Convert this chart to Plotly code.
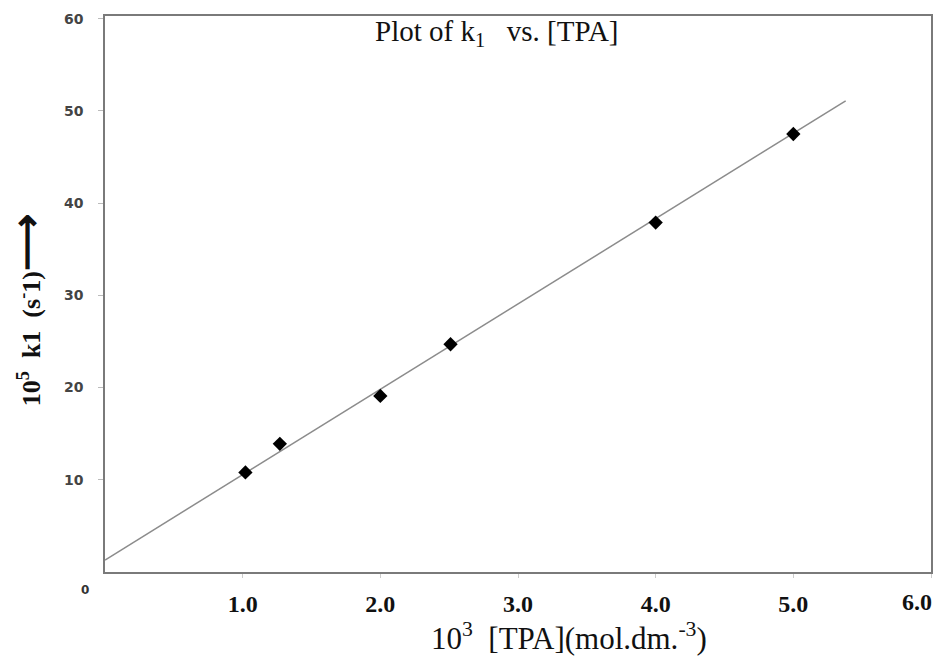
import plotly.graph_objects as go

# data
tpa = [1.02, 1.27, 2.0, 2.51, 4.0, 5.0]
k1 = [10.8, 13.9, 19.1, 24.7, 37.9, 47.5]
fit_x = [0.0, 5.38]
fit_y = [1.3, 51.1]
x_ticks = [1, 2, 3, 4, 5]
x_tick_text = ["1.0", "2.0", "3.0", "4.0", "5.0"]
y_ticks = [10, 20, 30, 40, 50, 60]

fig = go.Figure()
fig.add_trace(go.Scatter(x=fit_x, y=fit_y, mode="lines",
                         line=dict(color="#8c8c8c", width=1.5), showlegend=False))
fig.add_trace(go.Scatter(x=tpa, y=k1, mode="markers",
                         marker=dict(symbol="diamond", size=11, color="black"),
                         showlegend=False))

fig.update_layout(
    width=942, height=661,
    margin=dict(l=105, r=9, t=16, b=89),
    paper_bgcolor="white", plot_bgcolor="white",
    showlegend=False,
    xaxis=dict(range=[0, 6.0], tickvals=x_ticks + [6], ticktext=x_tick_text + [""],
               showgrid=False, zeroline=False, showline=True, mirror=True,
               linecolor="#7a7a7a", linewidth=1.5,
               ticks="outside", ticklen=4, tickcolor="#cccccc",
               ticklabelstandoff=5,
               tickfont=dict(family="Liberation Serif", size=24, color="#111",
                             weight="bold")),
    yaxis=dict(range=[0, 60.3], tickvals=y_ticks,
               showgrid=False, zeroline=False, showline=True, mirror=True,
               linecolor="#7a7a7a", linewidth=1.5,
               ticks="outside", ticklen=5, tickcolor="#bbbbbb",
               ticklabelstandoff=12,
               tickfont=dict(family="DejaVu Sans", size=14, color="#444",
                             weight="bold")),
)

# last x tick label (drawn slightly left of its tick, as in the reference)
fig.add_annotation(text="<b>6.0</b>", xref="x", yref="paper", x=6.0, y=-0.027,
                   xanchor="right", yanchor="top", showarrow=False, xshift=3,
                   font=dict(family="Liberation Serif", size=24, color="#111"))
# chart title
fig.add_annotation(text="Plot of k<sub>1</sub>   vs. [TPA]", xref="paper", yref="paper",
                   x=0.474, y=1.006, xanchor="center", yanchor="top", showarrow=False,
                   font=dict(family="Liberation Serif", size=29, color="#111"))
# x axis title
fig.add_annotation(text="10<sup>3</sup>  [TPA](mol.dm.<sup>-3</sup>)",
                   xref="paper", yref="paper", x=0.562, y=-0.078,
                   xanchor="center", yanchor="top", showarrow=False,
                   font=dict(family="Liberation Serif", size=31, color="#111"))
# y axis title
fig.add_annotation(text="<b>10<sup>5</sup>  k1  (s<sup>-</sup>1)<span style='font-size:40px'>\u27f6</span></b>",
                   xref="paper", yref="paper", x=-0.095, y=0.47,
                   xanchor="center", yanchor="middle", textangle=-90, showarrow=False,
                   font=dict(family="Liberation Serif", size=26, color="#111"))
# origin label
fig.add_annotation(text="<b>0</b>", xref="paper", yref="paper", x=-0.024, y=-0.016,
                   xanchor="center", yanchor="top", showarrow=False,
                   font=dict(family="DejaVu Sans", size=12, color="#333"))

fig.write_html("out.html")
